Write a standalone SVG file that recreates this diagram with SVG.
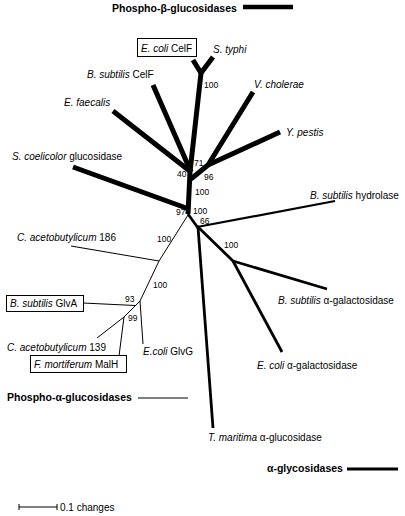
<svg xmlns="http://www.w3.org/2000/svg" width="405" height="516" viewBox="0 0 405 516">
<style>
text{font-family:"Liberation Sans",Arial,sans-serif;font-size:10px;fill:#000}
.i{font-style:italic}
.b{font-weight:bold;font-size:10.5px}
.n{font-size:8.5px}
.thick{stroke:#000;stroke-width:5;fill:none;stroke-linejoin:round}
.med{stroke:#000;stroke-width:2.8;fill:none;stroke-linejoin:round}
.thin{stroke:#000;stroke-width:1;fill:none}
.box{fill:none;stroke:#000;stroke-width:1}
</style>
<rect width="405" height="516" fill="#fff"/>
<g id="connectors">
<!-- phospho-beta -->
<polyline class="thick" points="193,60 201,73 213,57"/>
<polyline class="thick" points="201,73 190,172 188,214"/>
<line class="thick" x1="153" y1="85" x2="191" y2="172"/>
<line class="thick" x1="113" y1="111" x2="191" y2="172"/>
<polyline class="thick" points="253,92 208,165 191,179"/>
<line class="thick" x1="280" y1="132" x2="208" y2="165"/>
<line class="thick" x1="73" y1="167" x2="189" y2="209"/>
<!-- alpha-glycosidases -->
<line class="med" x1="188" y1="214" x2="198" y2="228"/>
<line class="med" x1="197" y1="227" x2="335" y2="201" style="stroke-width:2.2"/>
<line class="med" x1="198" y1="227" x2="213" y2="428"/>
<polyline class="med" points="197,226 233,261 327,289"/>
<line class="med" x1="233" y1="261" x2="282" y2="352"/>
<!-- phospho-alpha -->
<polyline class="thin" points="188,215 159,261 140,301 124,317 97,338"/>
<line class="thin" x1="71" y1="246" x2="159" y2="261"/>
<line class="thin" x1="140" y1="301" x2="143" y2="344"/>
<line class="thin" x1="83" y1="303" x2="135" y2="305.5"/>
<line class="thin" x1="124" y1="317" x2="119" y2="356"/>
</g>
<g id="legend">
<text class="b" x="112" y="12">Phospho-β-glucosidases</text>
<line x1="243" y1="7" x2="293" y2="7" stroke="#000" stroke-width="4.5"/>
<text class="b" x="7" y="401">Phospho-α-glucosidases</text>
<line x1="138" y1="398" x2="188" y2="398" stroke="#000" stroke-width="1"/>
<text class="b" x="267" y="472">α-glycosidases</text>
<line x1="347" y1="469" x2="398" y2="469" stroke="#000" stroke-width="2.8"/>
<path d="M19,504V510M19,507H57M57,504V510" stroke="#000" stroke-width="1" fill="none"/>
<text x="60" y="511">0.1 changes</text>
</g>
<g id="n-ecoli-celf"><rect class="box" x="137.5" y="38.5" width="59" height="18"/><text x="141" y="52"><tspan class="i">E. coli</tspan> CelF</text></g>
<g id="n-styphi"><text class="i" x="213" y="53">S. typhi</text></g>
<g id="n-bsub-celf"><text x="87" y="78"><tspan class="i">B. subtilis</tspan> CelF</text></g>
<g id="n-efaecalis"><text class="i" x="64" y="106">E. faecalis</text></g>
<g id="n-vcholerae"><text class="i" x="254" y="88">V. cholerae</text></g>
<g id="n-ypestis"><text class="i" x="286" y="136">Y. pestis</text></g>
<g id="n-scoel"><text x="12" y="160"><tspan class="i">S.  coelicolor</tspan> glucosidase</text></g>
<g id="n-bsub-hydro"><text x="310" y="199"><tspan class="i">B. subtilis</tspan> hydrolase</text></g>
<g id="n-caceto186"><text x="17" y="241"><tspan class="i">C. acetobutylicum</tspan> 186</text></g>
<g id="n-bsub-glva"><rect class="box" x="6.5" y="295.5" width="77" height="16"/><text x="10" y="307"><tspan class="i">B. subtilis</tspan> GlvA</text></g>
<g id="n-caceto139"><text x="7" y="351"><tspan class="i">C. acetobutylicum</tspan> 139</text></g>
<g id="n-fmort"><rect class="box" x="30.5" y="355.5" width="96" height="17"/><text x="34" y="368"><tspan class="i">F. mortiferum</tspan> MalH</text></g>
<g id="n-ecoli-glvg"><text x="143" y="355"><tspan class="i">E.coli</tspan> GlvG</text></g>
<g id="n-bsub-agal"><text x="278" y="304"><tspan class="i">B. subtilis</tspan> α-galactosidase</text></g>
<g id="n-ecoli-agal"><text x="257" y="369"><tspan class="i">E. coli</tspan> α-galactosidase</text></g>
<g id="n-tmar"><text x="208" y="441"><tspan class="i">T. maritima</tspan> α-glucosidase</text></g>
<g id="bootstrap">
<text class="n" x="204" y="88">100</text>
<text class="n" x="194" y="166">71</text>
<text class="n" x="177" y="177">40</text>
<text class="n" x="204" y="180">96</text>
<text class="n" x="195" y="195">100</text>
<text class="n" x="176" y="215">97</text>
<text class="n" x="193" y="214">100</text>
<text class="n" x="200" y="224">66</text>
<text class="n" x="224" y="248">100</text>
<text class="n" x="157" y="242">100</text>
<text class="n" x="153" y="288">100</text>
<text class="n" x="125" y="302">93</text>
<text class="n" x="128" y="321">99</text>
</g>
</svg>
